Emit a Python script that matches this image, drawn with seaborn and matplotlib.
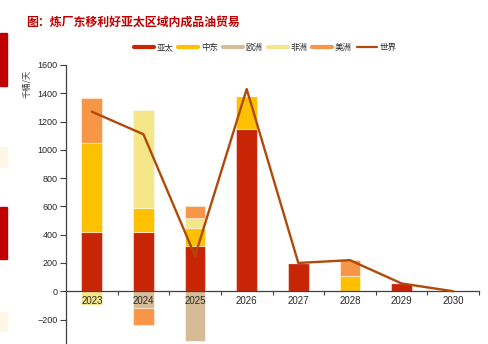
import matplotlib
matplotlib.use("Agg")
import matplotlib.pyplot as plt
from matplotlib.patches import Rectangle
from matplotlib.lines import Line2D
import numpy as np
import pandas as pd
import seaborn as sns

# 年份与各区域净出口变化（千桶/天）
years = ["2023", "2024", "2025", "2026", "2027", "2028", "2029", "2030"]
asia_pacific = [420, 420, 320, 1150, 200, 0, 60, 0]
middle_east = [630, 170, 130, 230, 0, 110, 0, 0]
europe = [0, -120, -350, 0, 0, 0, 0, 0]
africa = [-100, 690, 65, 0, 0, 0, 0, 0]
americas = [320, -120, 85, 0, 0, 110, 0, 0]
world = [1270, 1110, 250, 1430, 200, 220, 55, 0]

series_names = ["亚太", "中东", "欧洲", "非洲", "美洲"]
series_values = [asia_pacific, middle_east, europe, africa, americas]
series_colors = ["#C82506", "#FFC000", "#D6BC96", "#F5E68A", "#F79646"]
world_color = "#B04A0A"

sns.set_theme(style="white")
plt.rcParams["font.family"] = ["Liberation Sans", "Noto Sans CJK SC", "DejaVu Sans"]
plt.rcParams["axes.unicode_minus"] = True

fig = plt.figure(figsize=(4.88, 3.44), dpi=100)
ax = fig.add_axes([66 / 488, 0.0, (479 - 66) / 488, (344 - 65) / 344])

x = np.arange(len(years))
pos_base = np.zeros(len(years))
neg_base = np.zeros(len(years))
for name, vals, col in zip(series_names, series_values, series_colors):
    v = np.array(vals, dtype=float)
    bottoms = np.where(v >= 0, pos_base, neg_base)
    ax.bar(x, v, bottom=bottoms, width=0.4, color=col,
           edgecolor=(1, 1, 1, 0.45), linewidth=0.8, zorder=1)
    pos_base = pos_base + np.where(v > 0, v, 0)
    neg_base = neg_base + np.where(v < 0, v, 0)

df_world = pd.DataFrame({"x": x, "world": world})
sns.lineplot(data=df_world, x="x", y="world", ax=ax, color=world_color,
             linewidth=1.7, zorder=3, legend=False)

ax.set_xlim(-0.5, len(years) - 0.5)
ax.set_ylim(-373, 1600)
ax.set_yticks(np.arange(-200, 1601, 200))
ax.set_xticks(x)
ax.set_xticklabels(years)
ax.set_xticks(np.arange(0.5, len(years) - 0.5 + 0.01, 1.0), minor=True)
ax.set_xlabel("")
ax.set_ylabel("")

for s in ["top", "right"]:
    ax.spines[s].set_visible(False)
ax.spines["bottom"].set_position(("data", 0))
for s in ["left", "bottom"]:
    ax.spines[s].set_color("#404040")
    ax.spines[s].set_linewidth(0.9)
ax.set_axisbelow(False)

ax.tick_params(axis="x", which="major", length=0, pad=3.5, labelsize=7, colors="#262626")
ax.tick_params(axis="x", which="minor", bottom=True, length=3, width=0.8, color="#404040", direction="out")
ax.tick_params(axis="y", which="major", left=True, length=4, width=0.8, color="#404040",
               pad=2, labelsize=6.5, labelcolor="#262626", direction="out")
ax.grid(False)

# 标题与单位
fig.text(26 / 488, 1 - 22 / 344, "图：炼厂东移利好亚太区域内成品油贸易",
         fontsize=8.6, fontweight="bold", color="#C00000",
         family=["Noto Sans CJK SC"], va="center", ha="left")
fig.text(27 / 488, 1 - 84 / 344, "千桶/天", rotation=90, fontsize=6,
         color="#404040", family=["Noto Sans CJK SC"], va="center", ha="center")

# 图例
handles = [Line2D([0], [0], color=c, linewidth=3) for c in series_colors]
handles.append(Line2D([0], [0], color=world_color, linewidth=1.6))
fig.legend(handles, series_names + ["世界"], loc="center",
           bbox_to_anchor=(265 / 488, 1 - 47.5 / 344), ncol=6, frameon=False,
           prop={"family": ["Noto Sans CJK SC"], "size": 6.1},
           handlelength=2.36, handletextpad=0.3, columnspacing=0.6)

# 左侧页面色块
for y0, y1, c in [(33, 86, "#C00000"), (147, 167, "#FFF7E6"),
                  (207, 259, "#C00000"), (312, 331, "#FFF7E6")]:
    fig.patches.append(Rectangle((0, 1 - y1 / 344), 7 / 488, (y1 - y0) / 344,
                                 transform=fig.transFigure, color=c, zorder=0))

fig.savefig("out.png", dpi=100)
